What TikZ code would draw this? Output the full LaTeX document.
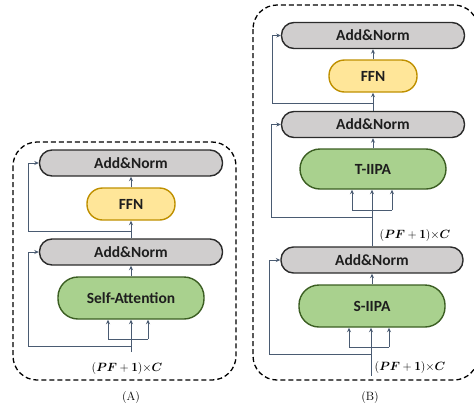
\documentclass[tikz,border=0pt]{standalone}
\usepackage{amsmath,bm}
\usepackage{fontspec}
\newfontfamily\carl{Carlito}
\usetikzlibrary{arrows.meta}
\definecolor{lnc}{HTML}{4A5B72}
\definecolor{gfill}{HTML}{D0CECE}
\definecolor{gdraw}{HTML}{2B2B2B}
\definecolor{yfill}{HTML}{FFE699}
\definecolor{ydraw}{HTML}{BF9000}
\definecolor{grfill}{HTML}{A9D18E}
\definecolor{grdraw}{HTML}{3B5E22}
\definecolor{txt}{HTML}{1E1E1E}
\tikzset{
  box/.style={rounded corners=#1, inner sep=0pt, line width=1.4pt, text=txt, font=\carl\bfseries\fontsize{15.5}{15.5}\selectfont},
  anbox/.style={box=12.5pt, fill=gfill, draw=gdraw, minimum width=183pt, minimum height=26pt},
  ffnbox/.style={box=15.5pt, fill=yfill, draw=ydraw, minimum width=88pt, minimum height=32pt},
  grbox/.style={box=20pt, fill=grfill, draw=grdraw, minimum width=146pt, minimum height=42pt},
  ln/.style={draw=lnc, line width=1pt},
  arr/.style={ln, -{Stealth[length=4.5pt,width=4pt]}},
  frame/.style={draw=black, line width=1.3pt, dash pattern=on 5pt off 3pt, rounded corners=24pt},
  lbl/.style={font=\fontsize{12.5}{12.5}\selectfont, inner sep=0pt},
  captxt/.style={font=\fontsize{12}{12}\selectfont, inner sep=0pt}
}
\newcommand{\dimlabel}{$(\bm{PF}+\mathbf{1}){\times}\bm{C}$}
\begin{document}
\begin{tikzpicture}[x=1pt,y=-1pt]
\useasboundingbox (0,0) rectangle (474,408);
\clip (0,0) rectangle (474,408);
% frames
\draw[frame] (13,142) rectangle (236,380);
\draw[frame] (253,5) rectangle (478,380);

% ---------- Panel A ----------
\node[anbox] (a2) at (131,163) {Add\&Norm};
\node[ffnbox] (affn) at (131,204) {FFN};
\node[anbox] (a1) at (131,252) {Add\&Norm};
\node[grbox] (asa) at (131,298) {Self-Attention};
\coordinate (ain) at (131,352);
\coordinate (ares1) at (131,346);
\coordinate (ajoin) at (131,339);
\coordinate (aL) at (108,339);
\coordinate (aR) at (148,339);
\coordinate (ares2) at (131,231);
\draw[ln] (ain) -- (ajoin);
\draw[ln] (aL) -- (aR);
\draw[arr] (aL) -- (aL |- asa.south);
\draw[arr] (ajoin) -- (asa.south);
\draw[arr] (aR) -- (aR |- asa.south);
\draw[arr] (asa.north) -- (a1.south);
\draw[arr] (ares1) -| (28,252) -- (a1.west);
\draw[arr] (a1.north) -- (affn.south);
\draw[arr] (ares2) -| (28,163) -- (a2.west);
\draw[arr] (affn.north) -- (a2.south);
\node[lbl] (alab) at (127,368) {\dimlabel};
\node[captxt] (acap) at (131,397) {(A)};

% ---------- Panel B ----------
\node[anbox] (b3) at (373,35.5) {Add\&Norm};
\node[ffnbox] (bffn) at (373,76) {FFN};
\node[anbox] (b2) at (373,124.5) {Add\&Norm};
\node[grbox, minimum height=40pt] (bt) at (373,169) {T-IIPA};
\node[anbox, minimum width=182pt] (b1) at (372,260) {Add\&Norm};
\node[grbox] (bs) at (372,306) {S-IIPA};
\coordinate (bin) at (371,376);
\coordinate (bres1) at (371,354);
\coordinate (bjoin1) at (371,347);
\coordinate (bL1) at (349,347);
\coordinate (bR1) at (389,347);
\draw[ln] (bin) -- (bjoin1);
\draw[ln] (bL1) -- (bR1);
\draw[arr] (bL1) -- (bL1 |- bs.south);
\draw[arr] (bjoin1) -- (bjoin1 |- bs.south);
\draw[arr] (bR1) -- (bR1 |- bs.south);
\draw[arr] (bs.north) -- (b1.south);
\draw[arr] (bres1) -| (269,260) -- (b1.west);
\coordinate (bjoin2) at (372,210);
\coordinate (bres2) at (372,217);
\coordinate (bL2) at (352,210);
\coordinate (bR2) at (392,210);
\draw[ln] (b1.north -| bjoin2) -- (bjoin2);
\draw[ln] (bL2) -- (bR2);
\draw[arr] (bL2) -- (bL2 |- bt.south);
\draw[arr] (bjoin2) -- (bjoin2 |- bt.south);
\draw[arr] (bR2) -- (bR2 |- bt.south);
\draw[arr] (bres2) -| (271,124.5) -- (b2.west);
\draw[arr] (bt.north) -- (b2.south);
\coordinate (bres3) at (373,103);
\draw[arr] (b2.north) -- (bffn.south);
\draw[arr] (bres3) -| (272,35.5) -- (b3.west);
\draw[arr] (bffn.north) -- (b3.south);
\node[lbl] (blab2) at (415,235) {\dimlabel};
\node[lbl] (blab1) at (410,367) {\dimlabel};
\node[captxt] (bcap) at (370,397) {(B)};
\end{tikzpicture}
\end{document}
